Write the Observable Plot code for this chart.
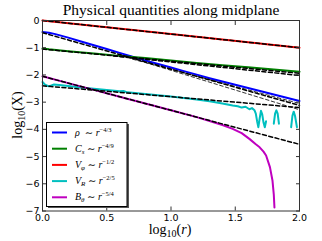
<!DOCTYPE html>
<html><head><meta charset="utf-8">
<script src="https://cdn.jsdelivr.net/npm/d3@7"></script>
<script src="https://cdn.jsdelivr.net/npm/@observablehq/plot@0.6"></script>
<style>body{margin:0;background:#fff;} svg{display:block;}</style>
</head><body><div id="chart"></div>
<script>
// ---- data ----
const xTicks = [0, 0.5, 1.0, 1.5, 2.0];
const yTicks = [0, -1, -2, -3, -4, -5, -6, -7];

const rhoX = [0, 0.05, 0.1, 0.2, 0.3, 0.4, 0.5, 0.6, 0.7, 0.8, 0.9, 1.0, 1.1, 1.2, 1.3, 1.4, 1.5, 1.6, 1.7, 1.8, 1.9, 2.0];
const rhoY = [-0.42, -0.45, -0.5, -0.63, -0.77, -0.91, -1.05, -1.19, -1.33, -1.47, -1.6, -1.73, -1.86, -1.99, -2.12, -2.24, -2.36, -2.48, -2.6, -2.72, -2.84, -2.96];

const csX = [0, 0.05, 0.2, 0.4, 0.6, 0.8, 1.0, 1.2, 1.4, 1.6, 1.8, 2.0];
const csY = [-1.03, -1.06, -1.13, -1.21, -1.3, -1.38, -1.47, -1.56, -1.64, -1.72, -1.8, -1.88];

const vphiX = [0, 1, 2];
const vphiY = [0, -0.5, -1];

const vrX = [0, 0.02, 0.05, 0.09, 0.13, 0.2, 0.3, 0.4, 0.5, 0.6, 0.63, 0.66, 0.8, 1.0, 1.2, 1.3, 1.4, 1.48, 1.52, 1.55, 1.58, 1.61, 1.63, 1.65,
  1.66, 1.67, 1.68, 1.69, 1.70, 1.71, 1.72, 1.73, 1.74, 1.76,
  1.80, 1.81, 1.82, 1.83, 1.84, 1.9,
  1.935, 1.945, 1.955, 1.965, 1.98];
const vrY = [-2.26, -2.36, -2.42, -2.35, -2.37, -2.41, -2.46, -2.51, -2.55, -2.6, -2.59, -2.64, -2.7, -2.79, -2.9, -2.97, -3.05, -3.12, -3.15, -3.2, -3.17, -3.26, -3.22, -3.3,
  -3.42, -3.7, -3.92, -3.6, -3.32, -3.45, -3.75, -3.92, -3.7, null,
  -3.79, -3.42, -3.3, -3.42, -3.79, null,
  -3.92, -3.5, -3.35, -3.5, -3.92];

const bthX = [0, 0.2, 0.4, 0.6, 0.8, 1.0, 1.2, 1.3, 1.4, 1.48, 1.55, 1.61, 1.66, 1.69, 1.72, 1.74, 1.77, 1.79, 1.80, 1.805];
const bthY = [-2.05, -2.3, -2.55, -2.8, -3.05, -3.3, -3.55, -3.69, -3.84, -3.98, -4.14, -4.35, -4.55, -4.66, -4.82, -4.96, -5.39, -5.89, -6.4, -6.87];

// power-law guide lines (end points)
const refThickX = [[0, 2], [0, 2], [0, 2], [0, 2], [0, 2], [0.55, 2]];
const refThickY = [[0, -1], [-0.45, -3.12], [-1.05, -1.94], [-2.4, -3.2], [-2.05, -4.55], [-1.3, -2.02]];
const refThinX = [[0.62, 2], [0.7, 2]];
const refThinY = [[-1.28, -3.28], [-1.42, -3.05]];

const names = ["rho", "Cs", "Vphi", "VR", "Btheta"];
const colors = ["#0000ff", "#008000", "#ff0000", "#00bfbf", "#bf00bf"];
const seriesX = [rhoX, csX, vphiX, vrX, bthX];
const seriesY = [rhoY, csY, vphiY, vrY, bthY];

const titleText = "Physical quantities along midplane";

// ---- build tables ----
const lineRows = [];
seriesX.forEach((xs, i) => xs.forEach((x, j) => lineRows.push({s: names[i], x, y: seriesY[i][j]})));
const thickRows = [];
refThickX.forEach((xs, i) => xs.forEach((x, j) => thickRows.push({g: i, x, y: refThickY[i][j]})));
const thinRows = [];
refThinX.forEach((xs, i) => xs.forEach((x, j) => thinRows.push({g: i, x, y: refThinY[i][j]})));

const fmtY = d => d === 0 ? "0" : "\u2212" + Math.abs(d);
const fmtX = d => d.toFixed(1);

const svg = Plot.plot({
  width: 322, height: 241,
  marginLeft: 42, marginRight: 23, marginTop: 20, marginBottom: 30.5,
  style: {fontFamily: "DejaVu Sans", fontSize: "9.5px", color: "#000", background: "#fff"},
  x: {domain: [0, 2]},
  y: {domain: [-7, 0]},
  color: {domain: names, range: colors},
  marks: [
    Plot.line(lineRows, {x: "x", y: "y", z: "s", stroke: "s", strokeWidth: 2, curve: "linear"}),
    Plot.line(thinRows, {x: "x", y: "y", z: "g", stroke: "#000", strokeWidth: 0.8, strokeDasharray: "3.5,2.5"}),
    Plot.line(thickRows, {x: "x", y: "y", z: "g", stroke: "#000", strokeWidth: 1.5, strokeDasharray: "4,2.5"}),
    Plot.frame({stroke: "#333", strokeWidth: 1}),
    Plot.axisY(yTicks, {anchor: "left", tickSize: -4, text: null, label: null, stroke: "#333"}),
    Plot.axisY(yTicks, {anchor: "right", tickSize: -4, text: null, label: null, stroke: "#333"}),
    Plot.axisX(xTicks, {anchor: "bottom", tickSize: -4, text: null, label: null, stroke: "#333"}),
    Plot.axisX(xTicks, {anchor: "top", tickSize: -4, text: null, label: null, stroke: "#333"}),
    Plot.axisY(yTicks, {anchor: "left", tickSize: 0, tickPadding: 3, tickFormat: fmtY, label: null}),
    Plot.axisX(xTicks, {anchor: "bottom", tickSize: 0, tickPadding: 3, tickFormat: fmtX, label: null})
  ]
});
document.getElementById("chart").appendChild(svg);

const S = d3.select(svg);
const serif = "'Liberation Serif', 'DejaVu Serif', serif";
// title
S.append("text").attr("x", 171).attr("y", 15).attr("text-anchor", "middle")
  .attr("font-family", serif).attr("font-size", 15.5).attr("fill", "#000").text(titleText);
// x label
const xl = S.append("text").attr("x", 170).attr("y", 234).attr("text-anchor", "middle")
  .attr("font-family", serif).attr("font-size", 14).attr("fill", "#000");
xl.append("tspan").text("log");
xl.append("tspan").attr("font-size", 10).attr("dy", 3).text("10");
xl.append("tspan").attr("dy", -3).text("(");
xl.append("tspan").attr("font-style", "italic").text("r");
xl.append("tspan").text(")");
// y label
const yl = S.append("text").attr("transform", "translate(22,115) rotate(-90)").attr("text-anchor", "middle")
  .attr("font-family", serif).attr("font-size", 14).attr("fill", "#000");
yl.append("tspan").text("log");
yl.append("tspan").attr("font-size", 10).attr("dy", 3).text("10");
yl.append("tspan").attr("dy", -3).text("(X)");

// legend
const legendItems = [
  {sym: "ρ", sub: "", gap: "  ", exp: "−4/3"},
  {sym: "C", sub: "s", gap: " ", exp: "−4/9"},
  {sym: "V", sub: "φ", gap: " ", exp: "−1/2"},
  {sym: "V", sub: "R", gap: " ", exp: "−2/5"},
  {sym: "B", sub: "θ", gap: " ", exp: "−5/4"}
];
const L = S.append("g");
L.append("rect").attr("x", 48).attr("y", 124).attr("width", 81).attr("height", 84).attr("fill", "#555");
L.append("rect").attr("x", 46.5).attr("y", 122.5).attr("width", 80.5).attr("height", 84).attr("fill", "#fff").attr("stroke", "#000").attr("stroke-width", 1);
legendItems.forEach((d, i) => {
  const yy = 132.5 + i * 16.2;
  L.append("line").attr("x1", 52).attr("x2", 67).attr("y1", yy).attr("y2", yy).attr("stroke", colors[i]).attr("stroke-width", 2);
  const t = L.append("text").attr("x", 75).attr("y", yy + 3).attr("text-anchor", "start")
    .attr("font-family", serif).attr("font-size", 10).attr("fill", "#000");
  t.append("tspan").attr("font-style", "italic").text(d.sym);
  if (d.sub) {
    t.append("tspan").attr("font-style", "italic").attr("font-size", 7).attr("dy", 2).text(d.sub);
    t.append("tspan").attr("dy", -2).text(d.gap + "∼ ");
  } else {
    t.append("tspan").text(d.gap + "∼ ");
  }
  t.append("tspan").attr("font-style", "italic").text("r");
  t.append("tspan").attr("font-size", 6.5).attr("dy", -4).text(d.exp);
});
</script></body></html>
